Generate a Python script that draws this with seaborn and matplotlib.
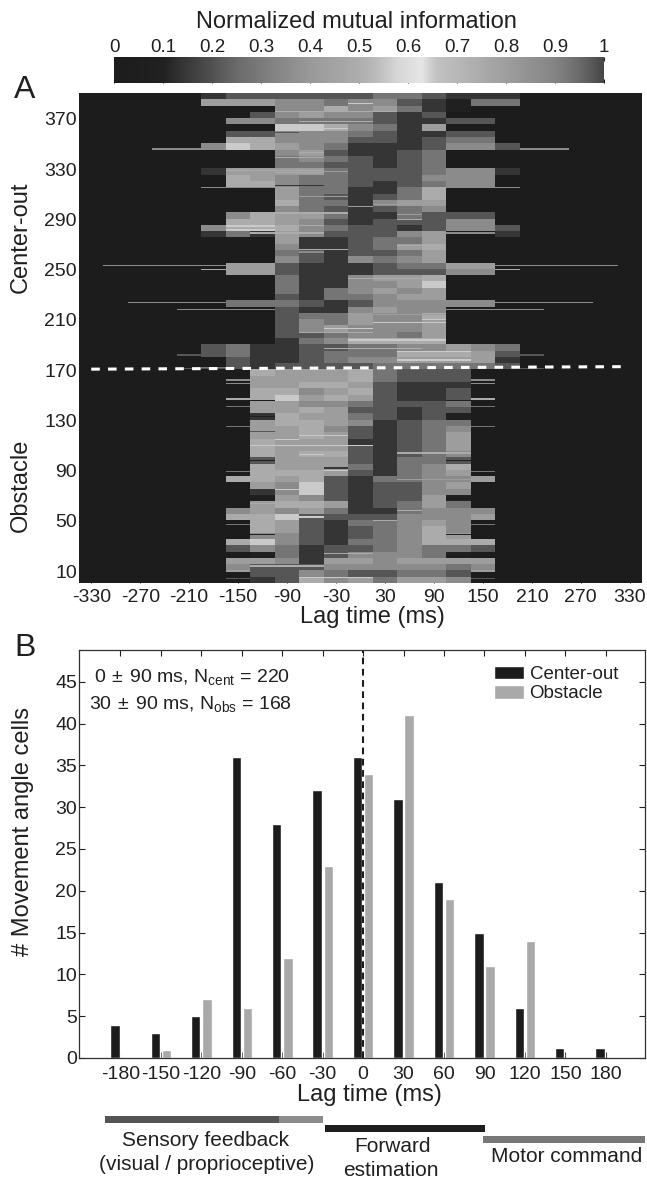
"""Mutual information heatmap by lag (A) and histogram of best lags (B)."""

import numpy as np
import pandas as pd
import matplotlib
matplotlib.use("Agg")
import matplotlib.pyplot as plt
import seaborn as sns
from matplotlib.colors import LinearSegmentedColormap
from matplotlib.patches import Rectangle

W, H = 647, 1179

# Panel A: each string is one band of 5 cells, top to bottom, one digit per lag
# from -180 to 180 ms. digit * 0.07 = normalized mutual information
mi_bands = [
    "2333333443222", "6665545532144", "0005575642100", "0035655323000",
    "0554444322330", "0008875426000", "0335554322330", "0775553323440",
    "5876542223553", "0005632234000", "0004543234000", "0004433234000",
    "2666643334552", "0765443335550", "0775443234550", "0006442247000",
    "0006432347000", "0007442566000", "0005432345000", "0576642243330",
    "0776532333550", "5887543323553", "2426533356002", "0006223446000",
    "0005223467000", "0004323346000", "0005325456000", "0663222344660",
    "0663222333550", "0004225667000", "0004225568000", "0004245656000",
    "0003244566000", "0444323555550", "0003225655000", "0003446557000",
    "0003546556000", "0003565556000", "0003345546000", "0002457777000",
    "3422334455654", "3422344477763", "0322345566662", "0323333444443",
    "0076667433300", "0066667433300", "0066776322200", "0077567322300",
    "0078676322300", "0066554333400", "0066763323300", "0027664323100",
    "0067765234400", "0066753234500", "0066763234600", "0076662234600",
    "0076663234600", "0076773234500", "0036663244300", "0076664245700",
    "0077763245600", "0776732445560", "0065832335600", "0025832335500",
    "0016532336100", "0067762346400", "0565642245550", "0778333355560",
    "0076324456500", "0076323457500", "0055323457600", "0785324457770",
    "0354233454430", "0014235554100", "0665266566660", "0533355555450",
    "0033543344300", "0023756466500",
]
band_lags = list(range(-180, 181, 30))
all_lags = list(range(-330, 331, 30))

# outlier cells, drawn only where the row is otherwise empty: row, max |lag|, digit
outlier_rows = [
    (346, 240, 5), (330, 180, 5), (315, 180, 5), (283, 180, 5), (279, 180, 5),
    (253, 300, 5), (250, 180, 7), (224, 270, 5), (218, 210, 5), (186, 180, 3),
    (182, 210, 3), (172, 180, 4), (171, 210, 3), (162, 150, 5), (159, 150, 5),
    (147, 150, 7), (141, 150, 4), (125, 150, 4), (89, 150, 4), (85, 150, 8),
    (57, 150, 6), (47, 150, 4), (17, 150, 6), (10, 150, 6), (4, 150, 3),
]
# streaks inside the block that differ from their band: row, first lag, last lag, digit
streak_rows = [
    (382, 0, 0, 8), (376, -90, 30, 7), (368, -60, 0, 7), (362, -90, -30, 8),
    (359, -120, -90, 3), (343, -60, -60, 7), (339, -90, -60, 7), (329, -150, -60, 7),
    (327, -90, -60, 7), (317, -90, -60, 2), (328, -60, -30, 6), (308, -60, -30, 6),
    (302, 30, 30, 6), (300, 0, 0, 6), (295, -90, -30, 7), (294, 60, 60, 6),
    (290, 60, 60, 7), (285, -90, -60, 7), (283, -150, -90, 7), (279, -120, -60, 7),
    (269, 60, 60, 7), (266, -60, -30, 7), (264, -60, -60, 5), (243, 0, 90, 7),
    (233, 30, 30, 6), (214, 30, 90, 6), (210, 90, 90, 8), (210, -60, -60, 5),
    (208, 30, 90, 8), (203, -30, 0, 8), (200, -60, 0, 7), (194, 0, 90, 8),
    (187, -30, 60, 7), (185, 60, 120, 8), (178, 60, 120, 8),
    (146, -120, -120, 0), (146, 120, 120, 1), (133, -120, -120, 1),
    (121, -120, -120, 3), (118, -60, -30, 8), (115, -90, -90, 8), (110, -120, 0, 8),
    (104, 60, 120, 7), (103, -60, -60, 8), (98, -120, -120, 1), (98, 120, 120, 1),
    (92, -30, -30, 2), (90, -30, -30, 8), (83, 60, 120, 6), (75, -90, -60, 8),
    (68, -120, -120, 0), (68, 120, 120, 0), (64, -120, -60, 7), (58, 60, 60, 7),
    (54, -90, -90, 8), (53, -90, -60, 8), (50, 30, 30, 7), (42, -120, -120, 7),
    (42, 90, 90, 7), (39, -120, -120, 1), (39, 120, 120, 1), (24, -30, 0, 7),
    (22, -120, -120, 1), (22, 120, 120, 0), (14, -120, -60, 7), (5, -60, 0, 8),
]
n_rows = 390
row_ticks = list(range(10, 371, 40))
lag_ticks_a = list(range(-330, 331, 60))

# colormap of the original: dark, up to near white at 0.62, then back to dark
cmap_values = [0, .10, .14, .19, .25, .33, .40, .50, .53, .58, .63, .645, .66, .70, .80, .90, .95, 1]
cmap_grays = [.11, .13, .21, .30, .42, .52, .60, .68, .72, .84, .90, .82, .76, .72, .62, .52, .42, .28]
cbar_ticks = [0, 0.1, 0.2, 0.3, 0.4, 0.5, 0.6, 0.7, 0.8, 0.9, 1]
cbar_labels = ["0", "0.1", "0.2", "0.3", "0.4", "0.5", "0.6", "0.7", "0.8", "0.9", "1"]

# Panel B
hist_lags = [-180, -150, -120, -90, -60, -30, 0, 30, 60, 90, 120, 150, 180]
center_out = [4, 3, 5, 36, 28, 32, 36, 31, 21, 15, 6, 1.2, 1.2]
obstacle = [0, 1, 7, 6, 12, 23, 34, 41, 19, 11, 14, 0, 0]
count_ticks = list(range(0, 46, 5))

BLACK = "#1c1c1c"
GRAY = "#a9a9a9"
INK = "#202020"


def px_axes(fig, left, top, right, bottom):
    return fig.add_axes([left / W, 1 - bottom / H, (right - left) / W, (bottom - top) / H])


def px_text(fig, x, y, s, size=13, **kw):
    kw.setdefault("ha", "center")
    kw.setdefault("va", "center")
    fig.text(x / W, 1 - y / H, s, fontsize=size, color=INK, **kw)


def px_bar(fig, left, right, y, color):
    fig.add_artist(Rectangle((left / W, 1 - (y + 3.5) / H), (right - left) / W, 7 / H,
                             transform=fig.transFigure, color=color, lw=0))


def build_matrix():
    mat = np.zeros((n_rows, len(all_lags)))
    offset = all_lags.index(band_lags[0])
    for b, band in enumerate(mi_bands):
        digits = [int(c) for c in band]
        mat[b * 5:(b + 1) * 5, offset:offset + len(digits)] = digits
    for row, max_lag, digit in outlier_rows:
        line = mat[n_rows - row]
        i0, i1 = all_lags.index(-max_lag), all_lags.index(max_lag)
        line[i0:i1 + 1] = np.where(line[i0:i1 + 1] == 0, digit, line[i0:i1 + 1])
    for row, lag0, lag1, digit in streak_rows:
        i0, i1 = all_lags.index(lag0), all_lags.index(lag1)
        mat[n_rows - row, i0:i1 + 1] = digit
    return mat * 0.07


sns.set_style("ticks")
plt.rcParams["font.family"] = ["Liberation Sans", "DejaVu Sans"]
plt.rcParams["mathtext.fontset"] = "custom"
plt.rcParams["mathtext.rm"] = "Liberation Sans"
plt.rcParams["mathtext.default"] = "rm"

cmap = LinearSegmentedColormap.from_list(
    "nmi", [(v, (g, g, g)) for v, g in zip(cmap_values, cmap_grays)], N=512)

fig = plt.figure(figsize=(W / 100, H / 100), dpi=100)
fig.patch.set_facecolor("white")

# colorbar
ax_cb = px_axes(fig, 114, 57, 604, 83)
gradient = np.linspace(0, 1, 256)[None, :]
sns.heatmap(gradient, ax=ax_cb, cmap=cmap, vmin=0, vmax=1, cbar=False,
            xticklabels=False, yticklabels=False, rasterized=True)
ax_cb.set_xticks([t * 256 for t in cbar_ticks])
ax_cb.set_xticklabels(cbar_labels, fontsize=13.5, color=INK)
ax_cb.set_yticks([])
ax_cb.tick_params(axis="x", direction="in", top=True, bottom=True, labeltop=True,
                  labelbottom=False, length=3, width=0.8, color="#222222", pad=0.5)
px_text(fig, 356, 22, "Normalized mutual information", size=17)

# panel A
ax_a = px_axes(fig, 79, 93, 642, 583)
sns.heatmap(build_matrix(), ax=ax_a, cmap=cmap, vmin=0, vmax=1, cbar=False,
            xticklabels=False, yticklabels=False, rasterized=True)
ax_a.set_xticks([all_lags.index(t) + 0.5 for t in lag_ticks_a])
ax_a.set_xticklabels([str(t) for t in lag_ticks_a], fontsize=14, color=INK)
ax_a.set_yticks([n_rows - r + 0.5 for r in row_ticks])
ax_a.set_yticklabels([str(r) for r in row_ticks], fontsize=14, color=INK)
ax_a.tick_params(axis="x", direction="in", top=True, length=5, width=0.8, color="#222222", pad=4)
ax_a.tick_params(axis="y", length=0, pad=1.5)
ax_a.plot([0.5, 22.4], [n_rows - 170.2, n_rows - 172.2], color="white", lw=2.2,
          linestyle=(0, (2.8, 2.7)))
for spine in ax_a.spines.values():
    spine.set_visible(False)

px_text(fig, 25, 90, "A", size=23)
px_text(fig, 21, 237, "Center-out", size=17, rotation=90)
px_text(fig, 21, 485, "Obstacle", size=17, rotation=90)
px_text(fig, 372, 617, "Lag time (ms)", size=17)

# panel B
df = pd.DataFrame({
    "lag": hist_lags * 2,
    "count": center_out + obstacle,
    "task": ["Center-out"] * len(hist_lags) + ["Obstacle"] * len(hist_lags),
})
ax_b = px_axes(fig, 79, 650, 645, 1058)
sns.barplot(data=df, x="lag", y="count", hue="task", order=hist_lags,
            hue_order=["Center-out", "Obstacle"], palette=[BLACK, GRAY], saturation=1,
            width=0.554, gap=0.16, ax=ax_b)
ax_b.set_xlim(-1.026, 12.97)
ax_b.set_ylim(0, 48.8)
ax_b.set_yticks(count_ticks)
ax_b.set_xlabel("")
ax_b.set_ylabel("")
ax_b.tick_params(axis="both", direction="in", top=True, right=True, length=4.5, width=0.8,
                 color="#222222", labelsize=14, labelcolor=INK)
ax_b.tick_params(axis="x", pad=6)
ax_b.tick_params(axis="y", pad=1.5)
ax_b.axvline(6, color=BLACK, lw=1.5, linestyle=(0, (3.2, 2.2)))
for spine in ax_b.spines.values():
    spine.set_visible(True)
    spine.set_linewidth(0.9)
    spine.set_color("#303030")
leg = ax_b.legend(frameon=False, fontsize=13.5, loc="upper left", bbox_to_anchor=(0.733, 0.962),
                  handlelength=1.6, handleheight=0.75, handletextpad=0.3, labelspacing=0.1,
                  borderpad=0, borderaxespad=0, labelcolor=INK)

px_text(fig, 25, 648, "B", size=23)
px_text(fig, 23, 831, "# Movement angle cells", size=17, rotation=90)
px_text(fig, 369, 1095, "Lag time (ms)", size=17)
px_text(fig, 192, 677, r"0$\,\pm\,$90 ms, N$_{\mathrm{cent}}$ = 220", size=14)
px_text(fig, 190, 704, r"30$\,\pm\,$90 ms, N$_{\mathrm{obs}}$ = 168", size=14)

# behaviour brackets under panel B
px_bar(fig, 105, 279, 1119, "#555555")
px_bar(fig, 279, 323, 1119, "#8c8c8c")
px_bar(fig, 325, 485, 1128, "#1e1e1e")
px_bar(fig, 483, 645, 1139, "#777777")
px_text(fig, 206, 1140, "Sensory feedback", size=15)
px_text(fig, 207, 1165, "(visual / proprioceptive)", size=15)
px_text(fig, 393, 1146, "Forward", size=15)
px_text(fig, 391, 1171, "estimation", size=15)
px_text(fig, 567, 1157, "Motor command", size=15)

fig.savefig("out.png", dpi=100)
plt.close(fig)
